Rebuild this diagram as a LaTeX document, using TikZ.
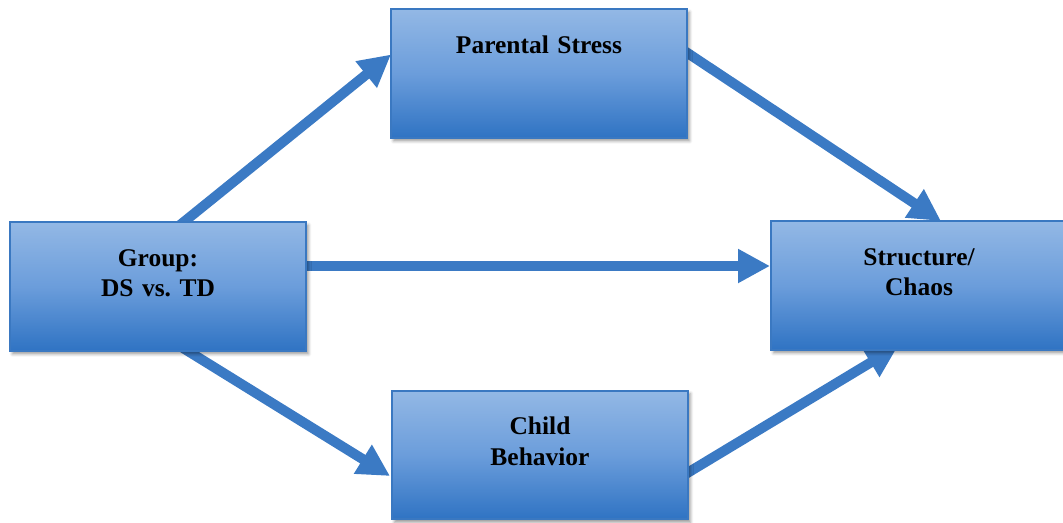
\documentclass[tikz,border=0pt]{standalone}
\usepackage{fontspec}
\setmainfont{Liberation Serif}
\usepackage{xcolor}
\usepackage{tikz}
\usetikzlibrary{arrows.meta,calc,backgrounds,shadows.blur}
\definecolor{boxtop}{HTML}{93B8E5}
\definecolor{boxmid}{HTML}{6B9DDB}
\definecolor{boxbot}{HTML}{2F73C3}
\definecolor{boxline}{HTML}{3A78C1}
\definecolor{linkblue}{HTML}{3B7AC4}

\begin{document}
\begin{tikzpicture}[x=0.02cm,y=-0.02cm,
  box/.style={draw=boxline,line width=0.04cm,top color=boxtop,bottom color=boxbot,middle color=boxmid,
    text width=5.6cm,minimum width=5.92cm,inner sep=0pt,align=center,
    text height=0.88cm,text depth=1.7cm,font=\fontsize{14.5}{17.5}\selectfont\bfseries,
    blur shadow={shadow xshift=0.05cm,shadow yshift=-0.06cm,shadow blur radius=0.06cm,shadow opacity=40}},
  link/.style={draw=linkblue,line width=0.2cm,-{Triangle[length=0.64cm,width=0.64cm]}}]
\useasboundingbox (0,0) rectangle (1063,522);
\node[box] (par) at (539,73.5) {Parental Stress};
\node[box] (grp) at (158,286.5) {Group:\\DS vs.\ TD};
\node[box] (str) at (919,285.5) {Structure/\\Chaos};
\node[box] (chd) at (540,455) {Child\\Behavior};
% arrows go under the boxes
\begin{scope}[on background layer]
\draw[link] ($(grp.north)+(22,4)$) -- ($(par.west)+(1,-19)$);
\draw[link] ($(par.east)+(-5,-23.5)$) -- ($(str.north)+(22,1)$);
\draw[link] ($(grp.east)+(-5,-20.5)$) -- ($(str.west)+(0,-19.5)$);
\draw[link] ($(grp.south)+(25,-4)$) -- ($(chd.west)+(-1,21)$);
\draw[link] ($(chd.east)+(-5,20)$) -- ($(str.south)+(-21,-5)$);
\end{scope}
\end{tikzpicture}
\end{document}
